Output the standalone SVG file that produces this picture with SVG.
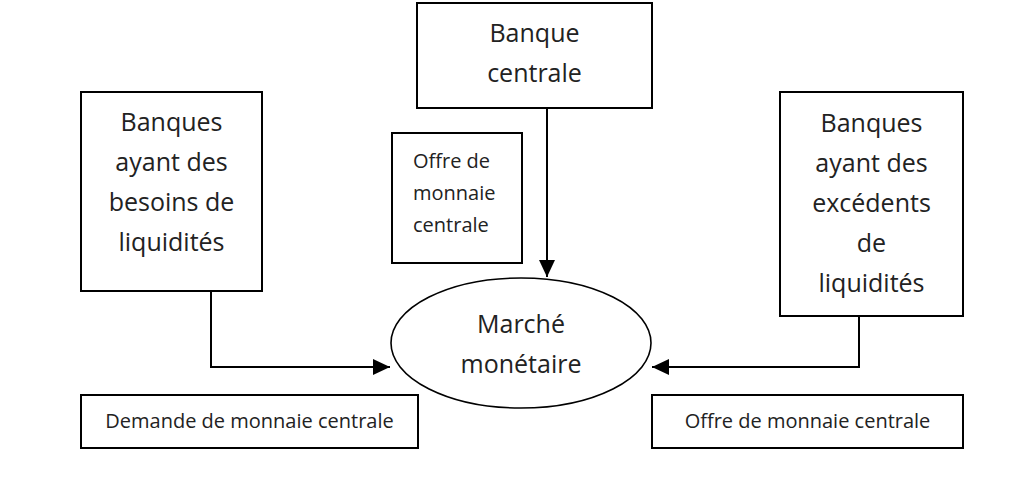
<svg xmlns="http://www.w3.org/2000/svg" width="1028" height="487" viewBox="0 0 1028 487">
<style>
.box{fill:#fff;stroke:#000;stroke-width:2}
.ell{fill:#fff;stroke:#000;stroke-width:1.6}
.big{font-family:"Open Sans","Liberation Sans",sans-serif;font-size:25px;fill:#222;text-anchor:middle}
.sm{font-family:"Open Sans","Liberation Sans",sans-serif;font-size:20px;fill:#222}
.con{fill:none;stroke:#000;stroke-width:2}
</style>
<defs>
<marker id="arr" markerUnits="userSpaceOnUse" markerWidth="18" markerHeight="16" refX="17" refY="8" orient="auto">
<path d="M0,0 L17,8 L0,16 Z" fill="#000"/>
</marker>
</defs>
<rect width="1028" height="487" fill="#fff"/>
<g id="connectors">
<path class="con" d="M547,108 V277" marker-end="url(#arr)"/>
<path class="con" d="M211,291 V367 H390" marker-end="url(#arr)"/>
<path class="con" d="M859,316 V367 H652" marker-end="url(#arr)"/>
</g>
<g id="banque-centrale">
<rect class="box" x="417" y="3" width="235" height="105"/>
<text class="big" x="534.5" y="42">Banque</text>
<text class="big" x="534.5" y="82">centrale</text>
</g>
<g id="offre-monnaie-centrale-label">
<rect class="box" x="392" y="133" width="130" height="130"/>
<text class="sm" x="413" y="168">Offre de</text>
<text class="sm" x="413" y="200">monnaie</text>
<text class="sm" x="413" y="232">centrale</text>
</g>
<g id="banques-besoins">
<rect class="box" x="81" y="92" width="181" height="199"/>
<text class="big" x="171.5" y="131">Banques</text>
<text class="big" x="171.5" y="171">ayant des</text>
<text class="big" x="171.5" y="211">besoins de</text>
<text class="big" x="171.5" y="251">liquidités</text>
</g>
<g id="banques-excedents">
<rect class="box" x="780" y="92" width="183" height="224"/>
<text class="big" x="871.5" y="132">Banques</text>
<text class="big" x="871.5" y="172">ayant des</text>
<text class="big" x="871.5" y="212">excédents</text>
<text class="big" x="871.5" y="252">de</text>
<text class="big" x="871.5" y="292">liquidités</text>
</g>
<g id="marche-monetaire">
<ellipse class="ell" cx="521" cy="343" rx="130" ry="65"/>
<text class="big" x="521" y="333">Marché</text>
<text class="big" x="521" y="373">monétaire</text>
</g>
<g id="demande-label">
<rect class="box" x="81" y="395" width="337" height="53"/>
<text class="sm" x="249.5" y="428" text-anchor="middle">Demande de monnaie centrale</text>
</g>
<g id="offre-label">
<rect class="box" x="652" y="395" width="311" height="53"/>
<text class="sm" x="807.5" y="428" text-anchor="middle">Offre de monnaie centrale</text>
</g>
</svg>
